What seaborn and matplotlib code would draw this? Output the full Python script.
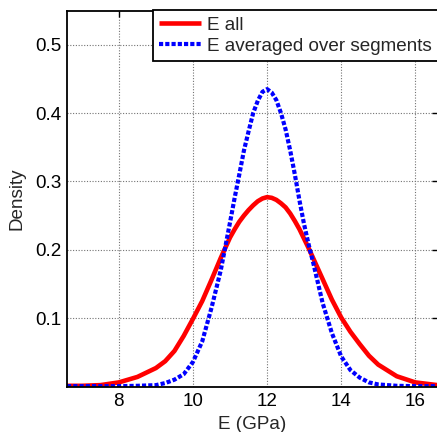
import matplotlib
matplotlib.use("Agg")
import matplotlib.pyplot as plt
import seaborn as sns
import numpy as np
import pandas as pd

# ---- data ----
e_gpa = [6.6, 7.0, 7.5, 8.0, 8.5, 9.0, 9.25, 9.5, 9.75, 10.0, 10.25, 10.5, 10.75,
         10.875, 11.0, 11.125, 11.25, 11.375, 11.5, 11.625, 11.75, 11.875, 12.0,
         12.125, 12.25, 12.375, 12.5, 12.625, 12.75, 12.875, 13.0, 13.125, 13.25,
         13.5, 13.75, 14.0, 14.25, 14.5, 14.75, 15.0, 15.5, 16.0, 16.6]
density_all = [0.001, 0.001, 0.002, 0.006, 0.014, 0.027, 0.037, 0.052, 0.074, 0.099,
               0.125, 0.156, 0.188, 0.203, 0.218, 0.230, 0.241, 0.250, 0.258, 0.265,
               0.271, 0.275, 0.277, 0.276, 0.273, 0.268, 0.262, 0.253, 0.242, 0.230,
               0.216, 0.202, 0.187, 0.157, 0.127, 0.101, 0.080, 0.062, 0.045, 0.032,
               0.015, 0.006, 0.002]
density_avg = [0.0005, 0.0005, 0.0005, 0.0005, 0.001, 0.002, 0.005, 0.010, 0.018, 0.036,
               0.066, 0.115, 0.170, 0.205, 0.240, 0.276, 0.310, 0.345, 0.373, 0.400,
               0.418, 0.431, 0.435, 0.430, 0.419, 0.400, 0.376, 0.345, 0.310, 0.272,
               0.237, 0.207, 0.180, 0.122, 0.078, 0.044, 0.024, 0.013, 0.006, 0.003,
               0.001, 0.0005, 0.0005]
series_names = ["E all", "E averaged over segments"]
x_ticks = [8, 10, 12, 14, 16]
y_ticks = [0.1, 0.2, 0.3, 0.4, 0.5]
x_label = "E (GPa)"
y_label = "Density"

sns.set_style("white")
plt.rcParams["font.family"] = ["Liberation Sans", "DejaVu Sans"]

FS = 13.6

fig = plt.figure(figsize=(4.37, 4.32), dpi=100)
ax = fig.add_axes([67 / 437, 45.5 / 432, (437.5 - 67) / 437, (421.5 - 45.5) / 432])

sns.lineplot(x=e_gpa, y=density_all, ax=ax, color="#ff0000", linewidth=3.3,
             label=series_names[0], solid_capstyle="butt", solid_joinstyle="round")
sns.lineplot(x=e_gpa, y=density_avg, ax=ax, color="#0000ff", linewidth=3.0,
             label=series_names[1], linestyle=(0, (1, 0.5)), dash_capstyle="butt")

ax.set_xlim(6.6, 16.6)
ax.set_ylim(0, 0.55)
ax.set_xticks(x_ticks)
ax.set_xticklabels([str(t) for t in x_ticks])
ax.set_yticks(y_ticks)
ax.set_yticklabels([f"{t:.1f}" for t in y_ticks])

ax.grid(True, color="0.45", linestyle=(0, (1, 1.5)), linewidth=0.8)
ax.set_axisbelow(True)

for sp in ax.spines.values():
    sp.set_visible(True)
    sp.set_color("black")
    sp.set_linewidth(1.3)

ax.tick_params(axis="both", which="both", direction="in", length=4, width=1,
               top=True, right=True, labelsize=FS, colors="black", pad=5)
ax.tick_params(axis="y", pad=4)

ax.set_xlabel(x_label, fontsize=FS, labelpad=4)
ax.set_ylabel(y_label, fontsize=FS, labelpad=7)

leg = ax.legend(loc="upper right", bbox_to_anchor=(1.0, 1.0), borderaxespad=0,
                fontsize=FS, frameon=True, fancybox=False, framealpha=1,
                edgecolor="black", handlelength=2.2, handletextpad=0.3,
                labelspacing=0.2, borderpad=0.33)
leg.get_frame().set_linewidth(1.3)

fig.savefig("out.png", dpi=100)
